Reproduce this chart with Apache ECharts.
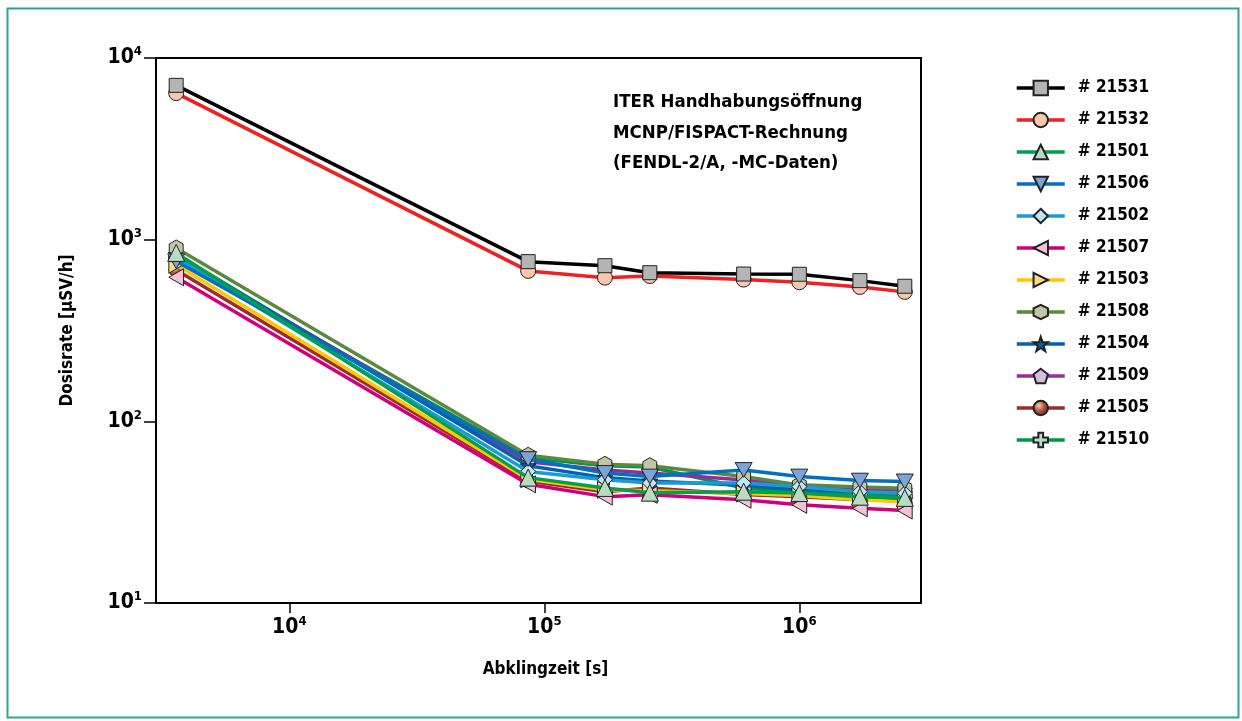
<!DOCTYPE html>
<html>
<head>
<meta charset="utf-8">
<script src="https://cdn.jsdelivr.net/npm/echarts@6/dist/echarts.min.js"></script>
<style>html,body{margin:0;padding:0;background:#fff}#c{width:1242px;height:721px}</style>
</head>
<body>
<div id="c"></div>
<script>
// Decay times [s]: 1 h, 1 d, 2 d, 3 d, 7 d, ~12 d, 20 d, 30 d
const times = [3600, 86400, 172800, 259200, 604800, 1000000, 1728000, 2592000];

const names = ['# 21531','# 21532','# 21501','# 21506','# 21502','# 21507','# 21503','# 21508','# 21504','# 21509','# 21505','# 21510'];

const s21531 = [7070, 757, 719, 658, 647, 645, 595, 554];
const s21532 = [6410, 673, 618, 631, 603, 583, 549, 516];
const s21501 = [845, 49, 43, 40.5, 41, 40.3, 38.5, 37.9];
const s21506 = [761, 62, 52, 49.7, 54, 49.7, 47.2, 46.7];
const s21502 = [795, 53, 47.7, 45.8, 45.7, 43.7, 41, 40.2];
const s21507 = [621, 45, 38.5, 39.4, 37, 34.7, 33.2, 32.3];
const s21503 = [728, 48, 42, 41.5, 40, 39, 37, 36];
const s21508 = [900, 65, 58, 57, 49.7, 44.7, 43.5, 42.8];
const s21504 = [830, 57, 49, 47, 44.5, 42, 41, 40];
const s21509 = [810, 60, 54, 52, 47.5, 44, 42.5, 42];
const s21505 = [680, 47, 41, 43, 39.5, 38.5, 37, 36.5];
const s21510 = [780, 63, 57, 56, 43, 41, 39.5, 38.5];

const xTicks = [1e4, 1e5, 1e6];
const yTicks = [10, 100, 1000, 10000];

const F = '"DejaVu Sans Condensed","DejaVu Sans",sans-serif';

const seriesValues = [s21531, s21532, s21501, s21506, s21502, s21507, s21503, s21508, s21504, s21509, s21505, s21510];
const lineColors = ['#000000','#ee2222','#00a04e','#0070c0','#1b9ad6','#d0007a','#ffc800','#5b8a3e','#0062b0','#982c98','#9a2e2e','#009848'];
const fillColors = ['#b4b4b4','#f8c6ad','#b8dcc2','#7ba4d8','#bfe5f8','#f5c0d8','#fdd98a','#c0c6a6','#0060ae','#d4bee0',
  {type:'radial',x:0.38,y:0.35,r:0.75,colorStops:[{offset:0,color:'#f4d0b8'},{offset:0.45,color:'#b4583a'},{offset:1,color:'#5a1a08'}]},
  '#b8dcc2'];
const symbols = [
  'rect','circle','triangle',
  'path://M-10,-8.66 L10,-8.66 L0,8.66 Z',
  'diamond',
  'path://M8.66,-10 L8.66,10 L-8.66,0 Z',
  'path://M-8.66,-10 L-8.66,10 L8.66,0 Z',
  'path://M0,-10 L8.66,-5 L8.66,5 L0,10 L-8.66,5 L-8.66,-5 Z',
  'path://M0,-10 L2.35,-3.24 L9.51,-3.09 L3.8,1.24 L5.88,8.09 L0,4 L-5.88,8.09 L-3.8,1.24 L-9.51,-3.09 L-2.35,-3.24 Z',
  'path://M0,-10 L9.51,-3.09 L5.88,8.09 L-5.88,8.09 L-9.51,-3.09 Z',
  'circle',
  'path://M-3.3,-10 L3.3,-10 L3.3,-3.3 L10,-3.3 L10,3.3 L3.3,3.3 L3.3,10 L-3.3,10 L-3.3,3.3 L-10,3.3 L-10,-3.3 L-3.3,-3.3 Z'
];
const sizes = [14,15,17,17,15,17,17,16,16,15,14,15];

const series = names.map((n, i) => ({
  name: n,
  type: 'line',
  data: times.map((t, j) => [t, seriesValues[i][j]]),
  symbol: symbols[i],
  symbolSize: sizes[i],
  symbolKeepAspect: true,
  showAllSymbol: true,
  z: 20 - i,
  lineStyle: { color: lineColors[i], width: 3.5 },
  itemStyle: { color: fillColors[i], borderColor: '#222', borderWidth: 1 },
  emphasis: { disabled: true },
  animation: false
}));
series.reverse();

const powLabel = v => '{b|10}{s|' + Math.round(Math.log10(v)) + '}';
const rich = {
  b: { fontFamily: F, fontWeight: 'bold', fontSize: 21, color: '#000' },
  s: { fontFamily: F, fontWeight: 'bold', fontSize: 13, color: '#000', padding: [0, 0, 12, 0] }
};

const chart = echarts.init(document.getElementById('c'), null, { renderer: 'canvas' });
chart.setOption({
  animation: false,
  backgroundColor: '#fff',
  grid: { left: 156, right: 321, top: 58, bottom: 118, show: true, borderColor: '#000', borderWidth: 2, backgroundColor: 'transparent' },
  xAxis: {
    type: 'log', logBase: 10, min: 3000, max: 3000000,
    name: 'Abklingzeit [s]', nameLocation: 'middle', nameGap: 58,
    nameTextStyle: { fontFamily: F, fontWeight: 'bold', fontSize: 17, color: '#000', padding: [0, 0, 0, 14] },
    axisLine: { show: true, lineStyle: { color: '#000', width: 2 } },
    axisTick: { show: true, length: 10, customValues: xTicks, lineStyle: { color: '#000', width: 1.5 } },
    minorTick: { show: false },
    axisLabel: { customValues: xTicks, formatter: powLabel, rich: rich, margin: 12 },
    splitLine: { show: false }
  },
  yAxis: {
    type: 'log', logBase: 10, min: 10, max: 10000,
    name: 'Dosisrate [μSV/h]', nameLocation: 'middle', nameGap: 80, nameRotate: 90,
    nameTextStyle: { fontFamily: F, fontWeight: 'bold', fontSize: 17, color: '#000' },
    axisLine: { show: true, lineStyle: { color: '#000', width: 2 } },
    axisTick: { show: true, length: 12, customValues: yTicks, lineStyle: { color: '#000', width: 1.5 } },
    minorTick: { show: false },
    axisLabel: { customValues: yTicks, formatter: powLabel, rich: rich, margin: 14 },
    splitLine: { show: false }
  },
  legend: {
    orient: 'vertical', left: 1010, top: 74,
    data: names,
    itemWidth: 48, itemHeight: 18, itemGap: 14,
    lineStyle: { width: 3.5 },
    textStyle: { fontFamily: F, fontWeight: 'bold', fontSize: 17, color: '#000', lineHeight: 18, padding: [0, 0, 0, 8] },
    selectedMode: false
  },
  graphic: [
    { type: 'rect', left: 5, top: 6, shape: { width: 1231, height: 709 }, style: { fill: 'none', stroke: '#2fa39a', lineWidth: 2 }, silent: true },
    { type: 'text', left: 613, top: 87, style: { text: 'ITER Handhabungsöffnung\nMCNP/FISPACT-Rechnung\n(FENDL-2/A, -MC-Daten)', font: 'bold 18.5px ' + F, fill: '#000', lineHeight: 30.5 }, z: 100 }
  ],
  series: series
});
</script>
</body>
</html>
